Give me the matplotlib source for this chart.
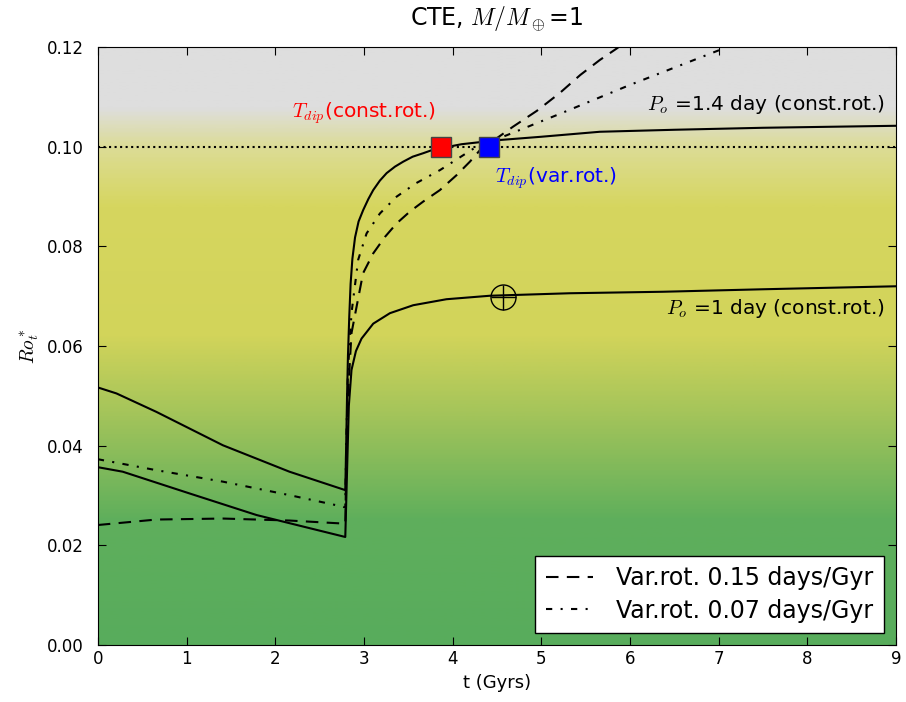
import matplotlib
matplotlib.use('Agg')
import matplotlib.pyplot as plt
import numpy as np
from matplotlib.colors import LinearSegmentedColormap

# Po = 1.4 day, rotacao constante
t_p14 = [0.0, 0.21, 0.66, 1.41, 2.16, 2.79, 2.80, 2.81, 2.82, 2.835, 2.85, 2.87, 2.90, 2.94,
         2.992, 3.05, 3.105, 3.18, 3.256, 3.35, 3.443, 3.55, 3.669, 3.78, 4.1, 4.5, 5.0, 5.66,
         6.5, 7.5, 9.0]
ro_p14 = [0.0517, 0.0505, 0.0468, 0.0401, 0.0348, 0.0311, 0.040, 0.050, 0.058, 0.066,
          0.0725, 0.0775, 0.0818, 0.0850, 0.0873, 0.0895, 0.0913, 0.0932, 0.0947, 0.0960,
          0.0970, 0.0980, 0.0987, 0.0994, 0.1005, 0.1013, 0.1020, 0.1030, 0.1034, 0.1038,
          0.1042]

# Po = 1 day, rotacao constante
t_p1 = [0.0, 0.28, 1.04, 1.79, 2.79, 2.81, 2.83, 2.86, 2.91, 2.973, 3.105, 3.293, 3.556,
        3.93, 4.42, 5.32, 6.37, 7.5, 9.0]
ro_p1 = [0.0357, 0.0348, 0.0304, 0.0261, 0.0217, 0.035, 0.048, 0.0552, 0.0590, 0.0615,
         0.0645, 0.0666, 0.0682, 0.0694, 0.0701, 0.0706, 0.0709, 0.0714, 0.0720]

# Var.rot. 0.15 days/Gyr
t_v15 = [0.0, 0.66, 1.41, 2.16, 2.76, 2.79, 2.80, 2.82, 2.86, 2.99, 3.105, 3.237, 3.368,
         3.519, 3.669, 3.857, 4.045, 4.195, 4.308, 4.68, 4.95, 5.21, 5.44, 5.66, 5.85,
         5.95]
ro_v15 = [0.0241, 0.0252, 0.0254, 0.0250, 0.0244, 0.0244, 0.035, 0.050, 0.0626, 0.0746,
          0.0786, 0.0819, 0.0846, 0.0870, 0.0890, 0.0913, 0.0943, 0.0970, 0.0993, 0.1040,
          0.1072, 0.1108, 0.1144, 0.1174, 0.1197, 0.1210]

# Var.rot. 0.07 days/Gyr
t_v07 = [0.0, 0.66, 1.41, 2.16, 2.76, 2.79, 2.80, 2.82, 2.86, 2.935, 3.03, 3.18, 3.37,
         3.59, 3.857, 4.12, 4.27, 4.61, 5.21, 6.0, 7.01, 7.2]
ro_v07 = [0.0373, 0.0351, 0.0328, 0.0301, 0.0278, 0.0276, 0.040, 0.055, 0.0666, 0.0773,
          0.0826, 0.0866, 0.0900, 0.0927, 0.0953, 0.0983, 0.1000, 0.1023, 0.1066, 0.1124,
          0.1194, 0.1208]

ro_limite = 0.10
t_dip_const = 3.87
t_dip_var = 4.41
marca_t, marca_ro = 4.57, 0.0699

# fundo em degrade (Ro, cor)
fundo_ro = [0.0, 0.025, 0.045, 0.062, 0.088, 0.100, 0.108, 0.12]
fundo_cor = ['#58ac5c', '#5faf5c', '#a0c35a', '#d2d45a', '#d6d65f', '#dcdc96', '#dedede', '#dedede']

plt.rcParams['font.family'] = 'DejaVu Sans'
plt.rcParams['mathtext.fontset'] = 'cm'

fig = plt.figure(figsize=(9.06, 7.02), dpi=100)
ax = fig.add_axes([0.108, 0.081, 0.881, 0.852])

cmap = LinearSegmentedColormap.from_list('fundo', list(zip(np.array(fundo_ro) / 0.12, fundo_cor)))
grad = np.linspace(0, 1, 400).reshape(-1, 1)
ax.imshow(grad, extent=[0, 9, 0, 0.12], origin='lower', aspect='auto', cmap=cmap, zorder=0)

ax.plot(t_p14, ro_p14, color='black', lw=1.5, zorder=3)
ax.plot(t_p1, ro_p1, color='black', lw=1.5, zorder=3)
l1, = ax.plot(t_v15, ro_v15, color='black', lw=1.5, dashes=(6, 4), zorder=3,
              label='Var.rot. 0.15 days/Gyr')
l2, = ax.plot(t_v07, ro_v07, color='black', lw=1.5, dashes=(3, 4, 1, 4), zorder=3,
              label='Var.rot. 0.07 days/Gyr')
ax.axhline(ro_limite, color='black', lw=1.5, ls=':', zorder=2)

ax.plot([t_dip_const], [ro_limite], 's', ms=14, mfc='red', mec='#444444', mew=1, zorder=4)
ax.plot([t_dip_var], [ro_limite], 's', ms=14, mfc='blue', mec='#444444', mew=1, zorder=4)
ax.plot([marca_t], [marca_ro], 'o', ms=18, mfc='none', mec='black', mew=1, zorder=4)
ax.plot([marca_t], [marca_ro], '+', ms=18, color='black', mew=1, zorder=4)

ax.text(2.19, 0.1068, r'$T_{dip}$(const.rot.)', color='red', fontsize=14.5, va='center')
ax.text(4.48, 0.0937, r'$T_{dip}$(var.rot.)', color='blue', fontsize=14.5, va='center')
ax.text(8.87, 0.1084, r'$P_o$ =1.4 day (const.rot.)', color='black', fontsize=14.5,
        va='center', ha='right')
ax.text(8.87, 0.0676, r'$P_o$ =1 day (const.rot.)', color='black', fontsize=14.5,
        va='center', ha='right')

leg = ax.legend(handles=[l1, l2], loc='lower right', fontsize=17, fancybox=False,
                framealpha=1, edgecolor='black', handlelength=2.0, handletextpad=1.0,
                labelspacing=0.35, borderpad=0.45)
leg.get_frame().set_linewidth(1.0)

ax.set_xlim(0, 9)
ax.set_ylim(0, 0.12)
ax.set_xticks(range(0, 10))
ax.set_yticks(np.arange(0, 0.121, 0.02))
ax.set_yticklabels([f'{v:.2f}' for v in np.arange(0, 0.121, 0.02)])
ax.tick_params(direction='in', top=True, right=True, labelsize=12, length=6)
ax.tick_params(axis='y', pad=10)
ax.set_xlabel('t (Gyrs)', fontsize=13)
ax.set_ylabel(r'$Ro_t^*$', fontsize=14)
ax.set_title(r'CTE, $M/M_\oplus$=1', fontsize=17, pad=16)

fig.savefig('out.png', dpi=100)
